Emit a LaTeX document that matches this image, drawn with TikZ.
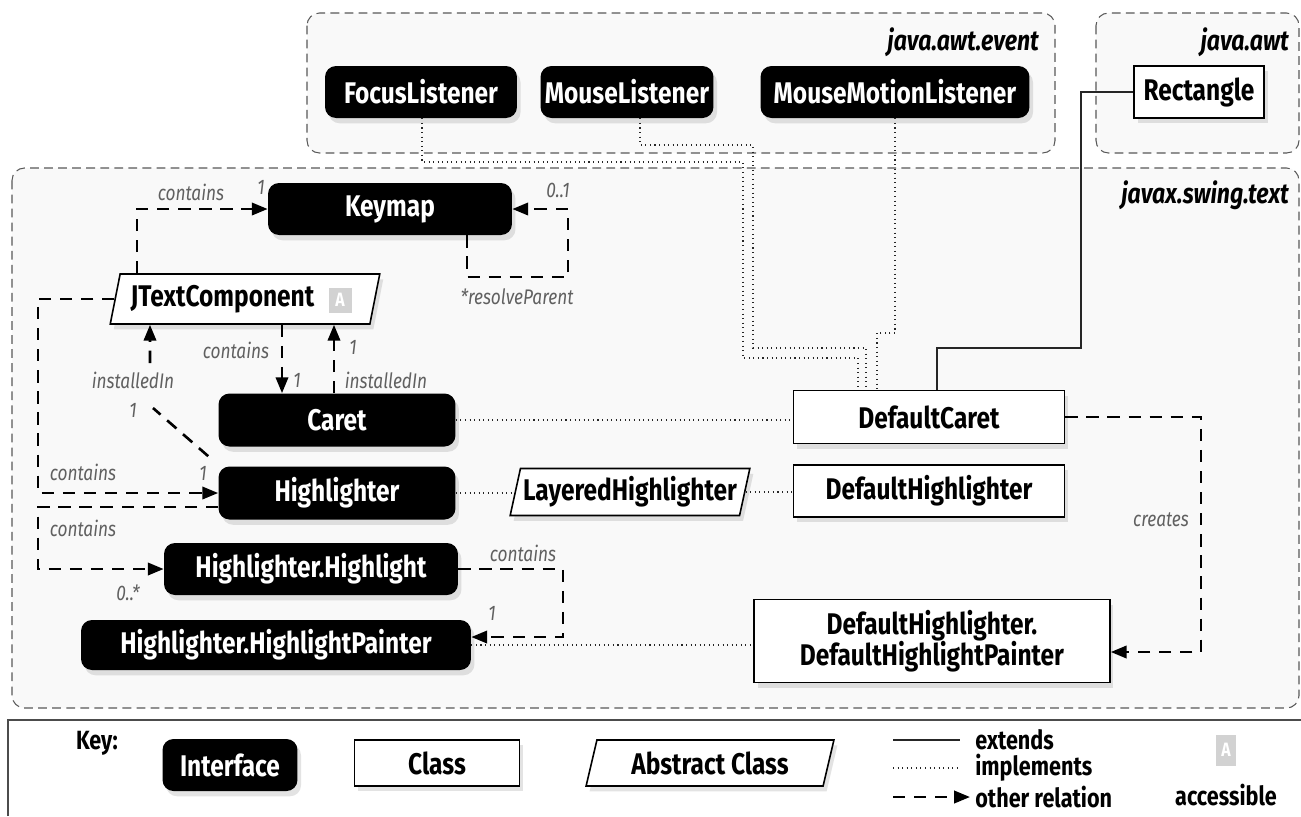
\documentclass[tikz,border=0pt]{standalone}
\usepackage{fontspec}
\newfontfamily\diafont{Fira Sans}[FakeStretch=0.82]
\usetikzlibrary{arrows.meta,shapes.geometric,shadows}

\tikzset{
  box/.style={minimum height=1.04cm, inner sep=0pt,
    font=\diafont\bfseries\fontsize{17}{18}\selectfont,
    drop shadow={shadow xshift=2pt,shadow yshift=-3pt,opacity=0.22}},
  iface/.style={box, fill=black, text=white, rounded corners=0.22cm},
  cls/.style={box, draw=black, fill=white, line width=0.9pt},
  abscls/.style={box, trapezium, trapezium left angle=72, trapezium right angle=108,
    trapezium stretches=true, draw=black, fill=white, line width=0.9pt},
  pkg/.style={draw=gray!70!black, dash pattern=on 5pt off 3pt, line width=0.6pt,
    rounded corners=0.25cm, fill=gray!5},
  pkglabel/.style={font=\diafont\bfseries\itshape\fontsize{16}{18}\selectfont, anchor=east},
  rel/.style={line width=1.5pt, dash pattern=on 7pt off 5pt, -{Triangle[length=9pt,width=7pt]}},
  impl/.style={line width=0.6pt, dotted, gray!30!black},
  ext/.style={line width=0.9pt, gray!30!black},
  lbl/.style={font=\diafont\itshape\fontsize{12}{14}\selectfont, text=gray!75!black, inner sep=1pt},
  acc/.style={fill=gray!35, text=white, font=\diafont\bfseries\fontsize{11}{12}\selectfont, inner sep=0pt},
  keytext/.style={font=\diafont\bfseries\fontsize{15}{16}\selectfont, anchor=west, inner sep=0pt}
}

\begin{document}
\begin{tikzpicture}[x=0.02cm,y=-0.02cm]
\useasboundingbox (0,0) rectangle (1301,816);
\fill[white] (0,0) rectangle (1301,816);

% packages
\draw[pkg] (307,13) rectangle (1055,153);
\draw[pkg] (1096,13) rectangle (1299,153);
\draw[pkg] (12,168) rectangle (1299,708);
\node[pkglabel] (pevent) at (1045,42) {java.awt.event};
\node[pkglabel] (pawt) at (1295,42) {java.awt};
\node[pkglabel] (pswing) at (1295,195) {javax.swing.text};

% java.awt.event / java.awt
\node[iface, minimum width=3.84cm] (fl) at (421,92) {FocusListener};
\node[iface, minimum width=3.46cm] (ml) at (627,92) {MouseListener};
\node[iface, minimum width=5.38cm] (mml) at (895,92) {MouseMotionListener};
\node[cls, minimum width=2.6cm] (rect) at (1199,92) {Rectangle};

% javax.swing.text
\node[iface, minimum width=4.88cm] (keymap) at (390,209) {Keymap};
\node[abscls, minimum width=5.4cm, minimum height=1.0cm] (jtc) at (245,299) {JTextComponent\kern0.9cm};
\node[acc, minimum width=0.46cm, minimum height=0.5cm] (jtcacc) at (340,300) {A};
\node[iface, minimum width=4.74cm, minimum height=1.06cm] (caret) at (337,420) {Caret};
\node[iface, minimum width=4.74cm, minimum height=1.06cm] (hl) at (337,493) {Highlighter};
\node[iface, minimum width=5.88cm] (hlh) at (311,569) {Highlighter.Highlight};
\node[iface, minimum width=7.8cm, minimum height=1.0cm] (hlp) at (276,645) {Highlighter.HighlightPainter};
\node[abscls, minimum width=4.8cm, minimum height=0.94cm] (lhl) at (630,492) {LayeredHighlighter};
\node[cls, minimum width=5.42cm, minimum height=1.06cm] (dc) at (929,417) {DefaultCaret};
\node[cls, minimum width=5.42cm] (dh) at (929,491) {DefaultHighlighter};
\node[cls, minimum width=7.12cm, minimum height=1.66cm, align=center] (dhp) at (932,641)
  {DefaultHighlighter.\\DefaultHighlightPainter};

% implements / extends
\draw[impl] (fl.south -| 422,0) |- (743,162) |- (858,358) -- (dc.north -| 858,0);
\draw[impl] (ml.south -| 640,0) |- (753,145) |- (866,348) -- (dc.north -| 866,0);
\draw[impl] (mml.south) -- (895,333) -| (dc.north -| 877,0);
\draw[ext] (rect.west) -| (1081,348) -| (dc.north -| 937,0);
\draw[impl] (caret.east) -- (caret.east -| dc.west);
\draw[impl] (hl.east) -- (hl.east -| lhl.west);
\draw[impl] (lhl.east) -- (lhl.east -| dh.west);
\draw[impl] (hlp.east) -- (hlp.east -| dhp.west);

% other relations
\draw[rel] (jtc.north -| 137,0) |- (keymap.west);
\draw[rel] (keymap.south -| 467,0) |- (568,277) |- (keymap.east);
\draw[rel] (jtc.south -| 282,0) -- (caret.north -| 282,0);
\draw[rel] (caret.north -| 334,0) -- (jtc.south -| 334,0);
\draw[rel] ([shift={(-0.2cm,0.2cm)}]hl.north west) -- (153,408) (150,363) -- (jtc.south -| 150,0);
\draw[rel] (jtc.west) -| (38,400) |- (hl.west);
\draw[rel] ([yshift=-0.28cm]hl.west) -| (38,540) |- (hlh.west);
\draw[rel] (hlh.east) -- (563,569) |- ([yshift=0.16cm]hlp.east);
\draw[rel] (dc.east) -- (1201,417) |- ([yshift=-0.22cm]dhp.east);

% labels
\node[lbl] (c1) at (191,192) {contains};
\node[lbl] (m1) at (261,187) {1};
\node[lbl] (m2) at (558,190) {0..1};
\node[lbl] (rp) at (517,297) {*resolveParent};
\node[lbl] (c2) at (236,350) {contains};
\node[lbl] (m3) at (297,380) {1};
\node[lbl] (m4) at (353,347) {1};
\node[lbl] (i1) at (386,380) {installedIn};
\node[lbl] (i2) at (133,380) {installedIn};
\node[lbl] (m5) at (133,410) {1};
\node[lbl] (c3) at (83,472) {contains};
\node[lbl] (m6) at (203,473) {1};
\node[lbl] (c4) at (83,528) {contains};
\node[lbl] (m7) at (128,593) {0..*};
\node[lbl] (c5) at (523,553) {contains};
\node[lbl] (m8) at (492,613) {1};
\node[lbl] (cr) at (1161,520) {creates};

% key
\draw[gray!60!black, line width=1.2pt] (8,816) -- (8,720) -- (1301,720);
\node[keytext, anchor=center] (key) at (97,743) {Key:};
\node[iface, minimum width=2.7cm] (kif) at (230,765) {Interface};
\node[cls, minimum width=3.3cm, minimum height=0.92cm] (kcls) at (437,763) {Class};
\node[abscls, minimum width=5.0cm, minimum height=0.92cm] (kabs) at (710,763) {Abstract Class};
\node[keytext] (kext) at (975,740) {extends};
\node[keytext] (kimp) at (975,768) {implements};
\node[keytext] (krel) at (975,797) {other relation};
\draw[ext] ([xshift=-1.64cm]kext.west) -- ([xshift=-0.3cm]kext.west);
\draw[impl] ([xshift=-1.64cm]kimp.west) -- ([xshift=-0.3cm]kimp.west);
\draw[rel] ([xshift=-1.64cm]krel.west) -- ([xshift=-0.1cm]krel.west);
\node[acc, minimum width=0.4cm, minimum height=0.62cm] (kacc) at (1226,750) {A};
\node[keytext, anchor=center] (kacct) at (1226,795) {accessible};
\end{tikzpicture}
\end{document}
